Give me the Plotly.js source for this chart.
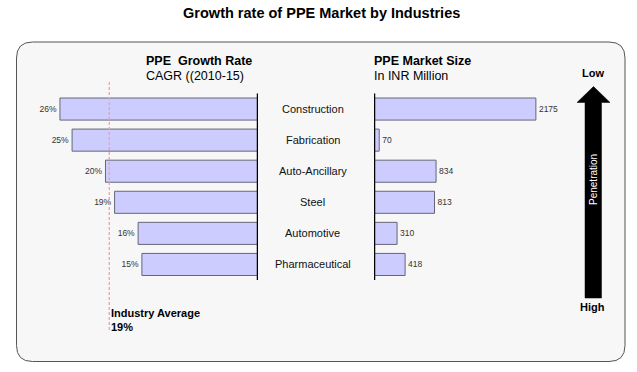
<!DOCTYPE html>
<html>
<head>
<meta charset="utf-8">
<script src="https://cdn.plot.ly/plotly-3.0.1.min.js"></script>
<style>html,body{margin:0;padding:0;background:#fff;}#chart{width:637px;height:372px;}</style>
</head>
<body>
<div id="chart"></div>
<script>
const categories = ['Construction', 'Fabrication', 'Auto-Ancillary', 'Steel', 'Automotive', 'Pharmaceutical'];
const growthRate = [26.1, 24.5, 20.1, 18.9, 15.8, 15.3];
const growthLabels = ['26%', '25%', '20%', '19%', '16%', '15%'];
const marketSize = [2175, 70, 834, 813, 310, 418];
const industryAvg = 19.6;
const industryAvgLabel = 'Industry Average<br>19%';

const W = 637, H = 372;
const px = x => x / W;
const py = y => 1 - y / H;
const FONT = 'Liberation Sans, Arial, sans-serif';

function roundRect(x0, y0, x1, y1, r) {
  const X = v => px(v), Y = v => py(v);
  return 'M' + X(x0 + r) + ',' + Y(y0) +
    ' L' + X(x1 - r) + ',' + Y(y0) +
    ' Q' + X(x1) + ',' + Y(y0) + ' ' + X(x1) + ',' + Y(y0 + r) +
    ' L' + X(x1) + ',' + Y(y1 - r) +
    ' Q' + X(x1) + ',' + Y(y1) + ' ' + X(x1 - r) + ',' + Y(y1) +
    ' L' + X(x0 + r) + ',' + Y(y1) +
    ' Q' + X(x0) + ',' + Y(y1) + ' ' + X(x0) + ',' + Y(y1 - r) +
    ' L' + X(x0) + ',' + Y(y0 + r) +
    ' Q' + X(x0) + ',' + Y(y0) + ' ' + X(x0 + r) + ',' + Y(y0) + ' Z';
}
function poly(pts) {
  return pts.map((p, i) => (i ? 'L' : 'M') + px(p[0]) + ',' + py(p[1])).join(' ') + ' Z';
}

const barStyle = {color: '#ccccff', line: {color: '#666677', width: 1}};

const traces = [
  {
    type: 'bar', orientation: 'h', y: categories, x: growthRate,
    text: growthLabels, textposition: 'outside', constraintext: 'none', cliponaxis: false,
    textfont: {family: FONT, size: 8.5, color: '#333'},
    marker: barStyle, xaxis: 'x', yaxis: 'y', hoverinfo: 'none'
  },
  {
    type: 'bar', orientation: 'h', y: categories, x: marketSize,
    text: marketSize.map(String), textposition: 'outside', constraintext: 'none', cliponaxis: false,
    textfont: {family: FONT, size: 8.5, color: '#333'},
    marker: barStyle, xaxis: 'x2', yaxis: 'y', hoverinfo: 'none'
  }
];

const annotations = categories.map(c => ({
  x: px(312.5), xref: 'paper', y: c, yref: 'y', text: c, showarrow: false,
  xanchor: 'center', yanchor: 'middle', font: {family: FONT, size: 11, color: '#111'}
}));
const txt = (x, y, text, opts) => Object.assign({
  x: px(x), y: py(y), xref: 'paper', yref: 'paper', text: text, showarrow: false,
  xanchor: 'left', yanchor: 'middle', font: {family: FONT, size: 12.5, color: '#000'}
}, opts || {});
annotations.push(
  txt(144, 61, '<b>PPE  Growth Rate</b>'),
  txt(144, 76, 'CAGR ((2010-15)'),
  txt(372, 61, '<b>PPE Market Size</b>'),
  txt(372, 76, 'In INR Million'),
  txt(593, 73.5, '<b>Low</b>', {xanchor: 'center', font: {family: FONT, size: 11, color: '#000'}}),
  txt(592, 307, '<b>High</b>', {xanchor: 'center', font: {family: FONT, size: 11, color: '#000'}}),
  txt(593, 180, 'Penetration', {xanchor: 'center', textangle: -90, font: {family: FONT, size: 10, color: '#fff'}}),
  txt(109, 319.5, '<b>' + industryAvgLabel + '</b>', {yanchor: 'middle', align: 'left', font: {family: FONT, size: 11, color: '#000'}})
);

const shapes = [
  {type: 'path', xref: 'paper', yref: 'paper', layer: 'below',
   path: roundRect(16.5, 42, 625, 361.5, 16), fillcolor: '#f7f7f7', line: {color: '#555', width: 1}},
  {type: 'line', xref: 'x', yref: 'paper', x0: industryAvg, x1: industryAvg, y0: py(82), y1: py(332),
   line: {color: '#f2a0a0', width: 1.3, dash: '3px,2px'}},
  {type: 'line', xref: 'x', yref: 'y domain', x0: 0, x1: 0, y0: 0, y1: 1, line: {color: '#000', width: 2.5}},
  {type: 'line', xref: 'x2', yref: 'y domain', x0: 0, x1: 0, y0: 0, y1: 1, line: {color: '#000', width: 2.5}},
  {type: 'path', xref: 'paper', yref: 'paper',
   path: poly([[593.5, 86.5], [610, 102.5], [601.5, 102.5], [601.5, 298], [585, 298], [585, 102.5], [577, 102.5]]),
   fillcolor: '#000', line: {color: '#000', width: 0.5}}
];

const layout = {
  width: W, height: H, autosize: false,
  margin: {l: 0, r: 0, t: 0, b: 0, pad: 0},
  paper_bgcolor: '#fff', plot_bgcolor: 'rgba(0,0,0,0)',
  showlegend: false, bargap: 0.29,
  title: {text: '<b>Growth rate of PPE Market by Industries</b>', x: 0.505, xanchor: 'center',
          y: py(12.5), yanchor: 'middle', yref: 'paper',
          font: {family: FONT, size: 14.5, color: '#000'}},
  xaxis: {domain: [0, px(258)], range: [34.0, 0], showgrid: false, zeroline: false,
          showticklabels: false, ticks: '', showline: false, fixedrange: true},
  xaxis2: {domain: [px(374), 1], range: [0, 3533.5], anchor: 'y', showgrid: false, zeroline: false,
           showticklabels: false, ticks: '', showline: false, fixedrange: true},
  yaxis: {domain: [py(280), py(93.5)], range: [5.5, -0.5], type: 'category', anchor: 'x',
          showgrid: false, zeroline: false, showticklabels: false, ticks: '', showline: false, fixedrange: true},
  annotations: annotations,
  shapes: shapes
};

Plotly.newPlot('chart', traces, layout, {displayModeBar: false, staticPlot: true});
</script>
</body>
</html>
